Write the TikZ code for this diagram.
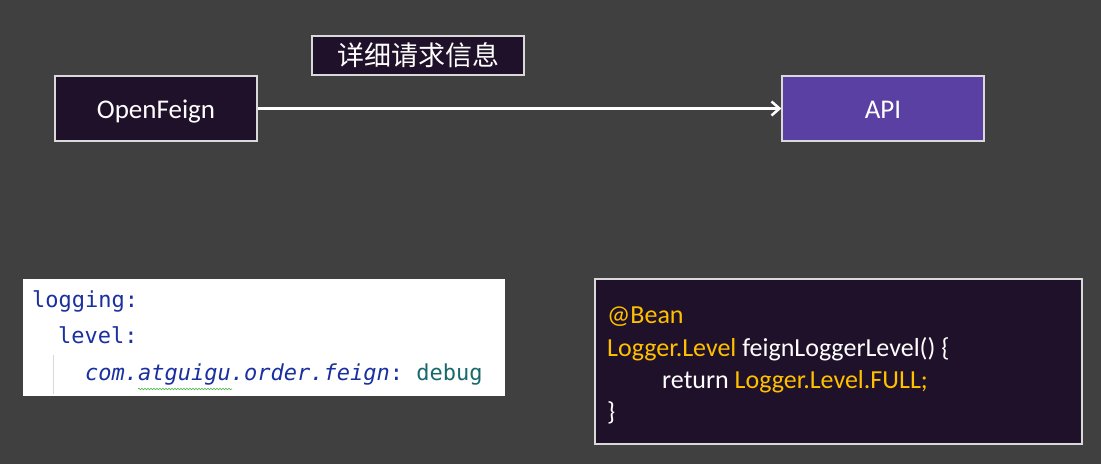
\documentclass[tikz,border=0pt]{standalone}
\usepackage{fontspec}
\setmainfont{Carlito}
\setmonofont{DejaVu Sans Mono}
\newfontfamily\cjk{Noto Sans CJK SC}
\usetikzlibrary{arrows.meta,decorations.pathmorphing}
\definecolor{bgc}{HTML}{404040}
\definecolor{darkbox}{HTML}{1F1129}
\definecolor{apibox}{HTML}{5B40A4}
\definecolor{edgec}{HTML}{D9D9D9}
\definecolor{codey}{HTML}{FFC000}
\definecolor{yblue}{HTML}{1A2FA0}
\definecolor{yteal}{HTML}{17696B}
\tikzset{
  boxn/.style={draw=edgec, line width=1.2pt, fill=darkbox, text=white, inner sep=0pt},
  lbl/.style={font=\fontsize{27}{32}\selectfont, text height=20pt, text depth=0pt},
  flow/.style={draw=white, line width=3pt, -{Straight Barb[length=8pt,width=14pt,line width=2.5pt]}},
  ytext/.style={anchor=base west, inner sep=0pt, font=\ttfamily\fontsize{22}{25}\selectfont},
  ctext/.style={anchor=base west, inner sep=0pt, text=white, font=\fontsize{26}{30}\selectfont}
}
\begin{document}
\begin{tikzpicture}[x=1pt,y=-1pt]
\fill[bgc] (0,0) rectangle (1101,464);
\useasboundingbox (0,0) rectangle (1101,464);

% top row
\node[boxn, lbl, minimum width=202, minimum height=65] (of) at (156,108.5) {OpenFeign};
\node[boxn, lbl, fill=apibox, minimum width=202, minimum height=65] (api) at (883,108.5) {API};
\node[boxn, minimum width=212, minimum height=39] (info) at (418,55.5) {\cjk\fontsize{27}{30}\selectfont 详细请求信息};
\draw[flow] (of.east) -- (api.west);

% yaml snippet
\node[fill=white, inner sep=0pt, minimum width=482, minimum height=117] (yaml) at (264,337.5) {};
\node[ytext, text=yblue] (y1) at (32,307) {logging:};
\node[ytext, text=yblue] (y2) at (58,343) {level:};
\node[ytext] (y3) at (85,380) {\textcolor{yblue}{\itshape com.atguigu.order.feign}\textcolor{yblue}{:} \textcolor{yteal}{debug}};
\draw[draw=black!15, line width=1pt] (53,355) -- (53,394);
\draw[draw=green!45!gray, line width=0.6pt, decorate, decoration={snake, amplitude=0.8pt, segment length=3pt}] (138,389) -- (232,389);

% code box
\node[boxn, minimum width=487, minimum height=165] (code) at (838.5,361.5) {};
\node[ctext, text=codey] (c1) at (607,323) {@Bean};
\node[ctext] (c2) at (607,356) {\textcolor{codey}{Logger.Level} feignLoggerLevel() \{};
\node[ctext] (c3) at (662,388) {return \textcolor{codey}{Logger.Level.FULL;}};
\node[ctext] (c4) at (607,420) {\}};
\end{tikzpicture}
\end{document}
